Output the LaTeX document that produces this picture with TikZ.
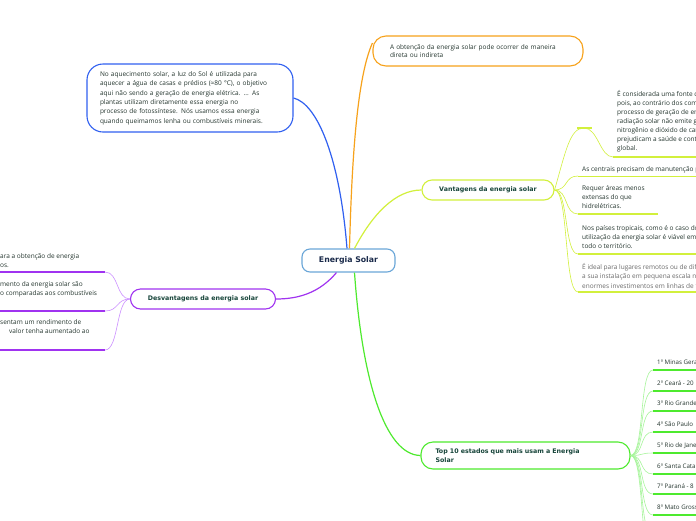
\documentclass[tikz,border=0pt]{standalone}
\usepackage{fontspec}
\setmainfont{Open Sans}
\newfontfamily\titlefont{DejaVu Sans}
\definecolor{txt}{HTML}{24352E}
\definecolor{txtgray}{HTML}{6A6A6A}
\definecolor{ttl}{HTML}{17453A}
\definecolor{ctr}{HTML}{1B2B4B}
\definecolor{cblue}{HTML}{3060F0}
\definecolor{corange}{HTML}{F7A21B}
\definecolor{cyel}{HTML}{D2F03C}
\definecolor{cyell}{HTML}{E4F78A}
\definecolor{cpur}{HTML}{A033F0}
\definecolor{cpurl}{HTML}{CC90FF}
\definecolor{cgrn}{HTML}{4EEA2E}
\definecolor{cgrnl}{HTML}{A6F59A}
\definecolor{cctr}{HTML}{6AA6D8}
\tikzset{
  body/.style={font=\fontsize{6.5}{9.4}\selectfont, text=txt, align=left, inner sep=0pt, anchor=north west},
  ttlfont/.style={font=\titlefont\bfseries\fontsize{6.3}{8.5}\selectfont, text=ttl},
  bubble/.style={rounded corners=10pt, line width=1.1pt, fill=white},
  branch/.style={line width=1.2pt},
  twig/.style={line width=0.6pt},
  uline/.style={line width=1.6pt},
}
\begin{document}
\begin{tikzpicture}[x=1pt,y=-1pt]
\useasboundingbox (0,0) rectangle (696,520);
\clip (0,0) rectangle (696,520);
\fill[white] (0,0) rectangle (696,520);

% ---- boxes ----
\node[bubble, draw=cctr, minimum width=93pt, minimum height=23pt, rounded corners=8pt,
      font=\titlefont\bfseries\fontsize{7.8}{9}\selectfont, text=ctr] (c) at (348.5,260.5) {Energia Solar};

\node[bubble, draw=cblue, minimum width=206pt, minimum height=68pt, rounded corners=16pt,
      body, anchor=center, inner xsep=13pt, text width=180pt] (aq) at (190,98)
 {No aquecimento solar, a luz do Sol é utilizada para\\
  aquecer a água de casas e prédios (≈80 °C), o objetivo\\
  aqui não sendo a geração de energia elétrica. ... As\\
  plantas utilizam diretamente essa energia no\\
  processo de fotossíntese. Nós usamos essa energia\\
  quando queimamos lenha ou combustíveis minerais.};

\node[bubble, draw=corange, minimum width=210pt, minimum height=30pt, rounded corners=13pt,
      body, anchor=center, inner xsep=17pt, text width=176pt, font=\fontsize{6.5}{8.5}\selectfont] (ob) at (478,51)
 {A obtenção da energia solar pode ocorrer de maneira\\direta ou indireta};

\node[bubble, draw=cyel, minimum width=132pt, minimum height=20pt, ttlfont] (v) at (488,190) {Vantagens da energia solar};

\node[bubble, draw=cpur, minimum width=145pt, minimum height=20pt, ttlfont] (d) at (203,299) {Desvantagens da energia solar};

\node[bubble, draw=cgrn, minimum width=209pt, minimum height=27pt, rounded corners=12pt, ttlfont,
      align=left, text width=180pt] (t) at (525.5,455.5) {Top 10 estados que mais usam a Energia\\Solar};

% ---- main branches ----
\draw[branch, cblue] ([xshift=-1.5pt]c.north) .. controls (340,160) and (318,104) .. (aq.east);
\draw[branch, corange] ([xshift=1pt]c.north) .. controls (352,150) and (358,75) .. ([yshift=8pt]ob.west);
\draw[branch, cyel] ([xshift=6pt]c.north) .. controls (372,215) and (395,190) .. (v.west);
\draw[branch, cpur] ([xshift=-12pt]c.south) .. controls (320,292) and (300,299) .. (d.east);
\draw[branch, cgrn] ([xshift=6pt]c.south) .. controls (362,380) and (385,455) .. (t.west);

% ---- Vantagens children ----
\coordinate (y1) at (613,157);
\coordinate (y2) at (578,176);
\coordinate (y3) at (578,214);
\coordinate (y4) at (578,254);
\coordinate (y5) at (578,292);
\draw[twig, cyel] (v.east) .. controls (566,150) and (570,128) .. (584,128) .. controls (598,128) and (600,157) .. (y1);
\draw[uline, cyel] (577,128) -- (592,128);
\foreach \k in {y2,y3,y4,y5} \draw[twig, cyel] (v.east) .. controls +(14,0) and +(-14,0) .. (\k);
\draw[uline, cyel] (y1) -- ++(100,0);
\draw[twig, cyel] (y2) -- ++(130,0);
\draw[uline, cyel] (y3) -- ++(80,0);
\draw[uline, cyel] (y4) -- ++(130,0);
\draw[uline, cyel] (y5) -- ++(130,0);

\node[body, font=\fontsize{6.5}{9}\selectfont] (v1) at (617,90)
 {É considerada uma fonte de energia limpa,\\
  pois, ao contrário dos combustíveis fósseis, no\\
  processo de geração de energia através da\\
  radiação solar não emite gases como óxidos de\\
  nitrogênio e dióxido de carbono, que\\
  prejudicam a saúde e contribuem para o aquecimento\\
  global.};
\node[body] (v2) at (582,166) {As centrais precisam de manutenção periódica.};
\node[body] (v3) at (582,185) {Requer áreas menos\\extensas do que\\hidrelétricas.};
\node[body] (v4) at (582,225) {Nos países tropicais, como é o caso do Brasil, a\\utilização da energia solar é viável em quase\\todo o território.};
\node[body, text=txtgray] (v5) at (582,263) {É ideal para lugares remotos ou de difícil acesso, pois\\a sua instalação em pequena escala não obriga a\\enormes investimentos em linhas de transmissão.};

% ---- Desvantagens children ----
\coordinate (p1) at (105,272);
\coordinate (p2) at (105,311);
\coordinate (p3) at (105,350);
\foreach \k in {p1,p2,p3} {
  \draw[twig, cpurl] (d.west) .. controls +(-14,0) and +(14,0) .. (\k);
  \draw[uline, cpur] (\k) -- ++(-110,0);
}
\node[body] (d1) at (0,253) {ara a obtenção de energia\\os.};
\node[body] (d2) at (0,281) {mento da energia solar são\\o comparadas aos combustíveis};
\node[body] (d3) at (0,319) {sentam um rendimento de\\\hspace*{9pt}valor tenha aumentado ao};

% ---- Top 10 children ----
\foreach \i/\yy/\lab in {1/370/{1º Minas Gerais},2/391/{2º Ceará - 20},3/411/{3º Rio Grande do Norte},
                         4/432/{4º São Paulo},5/453/{5º Rio de Janeiro},6/474/{6º Santa Catarina},
                         7/494/{7º Paraná - 8},8/515/{8º Mato Grosso}} {
  \coordinate (g\i) at (653,\yy);
  \draw[twig, cgrnl] (t.east) .. controls +(14,0) and +(-14,0) .. (g\i);
  \draw[uline, cgrn] (g\i) -- ++(50,0);
  \node[body, anchor=base west, font=\fontsize{6.2}{7}\selectfont] (gt\i) at (657,\yy-5.5) {\lab};
}
\coordinate (g9) at (653,536);
\coordinate (g10) at (653,557);
\draw[twig, cgrnl] (t.east) .. controls +(14,0) and +(-14,0) .. (g9);
\draw[twig, cgrnl] (t.east) .. controls +(14,0) and +(-14,0) .. (g10);
\end{tikzpicture}
\end{document}
